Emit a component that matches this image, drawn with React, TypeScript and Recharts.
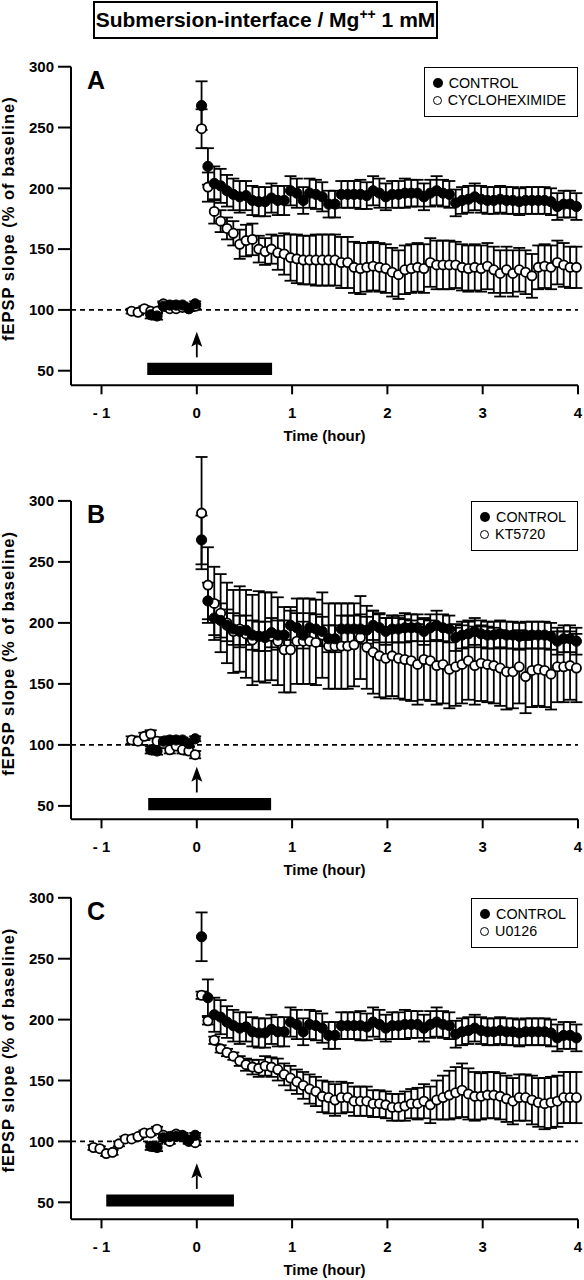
import React from 'react';
import {
  ComposedChart,
  Scatter,
  ErrorBar,
  XAxis,
  YAxis,
  ReferenceLine,
  ReferenceArea,
  ReferenceDot,
} from 'recharts';

const FONT = "'Liberation Sans', Arial, Helvetica, sans-serif";

// one sweep every 4 min (1/15 h); last baseline sweep just before tetanus
const STEP = 1 / 15;
const FIRST_POST = 0.05;
const LAST_BASE = -0.017;

const xTicks = [-1, 0, 1, 2, 3, 4];
const yTicks = [50, 100, 150, 200, 250, 300];

// CONTROL (same group in the three panels)
const controlBase = [96, 95, 103, 104, 104, 104, 101, 105];
const controlBaseErr = [3, 3, 3, 3, 2, 2, 2, 2];
const controlPost = [
  268, 218, 204, 202, 198, 195, 193, 194, 190, 189,
  189, 192, 190, 190, 198, 196, 190, 196, 195, 193,
  187, 187, 195, 195, 195, 195, 194, 198, 196, 193,
  195, 195, 196, 196, 196, 193, 196, 198, 196, 195,
  188, 190, 191, 193, 191, 190, 190, 191, 190, 190,
  189, 190, 190, 190, 190, 189, 185, 187, 187, 185,
];
const controlPostErr = [
  20, 15, 14, 14, 13, 13, 13, 12, 12, 12,
  12, 12, 12, 12, 12, 12, 11, 12, 12, 12,
  11, 11, 11, 11, 11, 12, 11, 12, 12, 11,
  11, 11, 12, 11, 11, 11, 11, 12, 11, 11,
  11, 11, 11, 11, 11, 11, 11, 11, 11, 11,
  11, 11, 11, 11, 11, 11, 11, 11, 11, 11,
];

// A - cycloheximide
const cycloBase = [99, 98, 101, 99, 99, 105, 101, 101, 102, 101, 103];
const cycloBaseErr = [2, 2, 2, 2, 2, 2, 2, 2, 2, 2, 2];
const cycloPost = [
  249, 201, 181, 173, 167, 163, 154, 157, 158, 150,
  148, 150, 147, 146, 143, 142, 141, 141, 141, 141,
  141, 141, 139, 139, 135, 134, 135, 136, 135, 134,
  131, 129, 133, 134, 135, 134, 139, 137, 137, 137,
  137, 135, 134, 135, 134, 136, 133, 130, 133, 130,
  133, 131, 128, 135, 136, 135, 139, 137, 135, 135,
];
const cycloPostErr = [
  16, 12, 10, 9, 9, 10, 12, 13, 13, 11,
  11, 12, 14, 17, 19, 20, 20, 20, 21, 21,
  21, 21, 21, 21, 21, 21, 20, 20, 20, 20,
  20, 20, 20, 20, 20, 20, 20, 20, 20, 20,
  19, 19, 19, 19, 19, 19, 19, 19, 19, 19,
  18, 18, 18, 18, 18, 18, 18, 18, 17, 17,
];

// B - KT5720
const ktBase = [104, 103, 107, 109, 103, 101, 96, 99, 96, 95, 92];
const ktBaseErr = [3, 3, 3, 3, 3, 3, 3, 3, 3, 3, 3];
const ktPost = [
  290, 231, 216, 208, 200, 193, 195, 191, 186, 189,
  188, 189, 185, 178, 178, 185, 185, 185, 184, 190,
  181, 181, 181, 181, 182, 188, 180, 176, 173, 171,
  173, 171, 170, 169, 166, 170, 169, 165, 166, 162,
  164, 166, 169, 165, 167, 166, 165, 163, 160, 160,
  164, 156, 161, 162, 161, 158, 164, 164, 165, 163,
];
const ktPostErr = [
  46, 31, 30, 32, 33, 34, 35, 36, 37, 37,
  37, 36, 36, 35, 35, 35, 35, 35, 35, 35,
  35, 35, 35, 35, 34, 34, 34, 34, 34, 33,
  33, 33, 33, 33, 33, 33, 33, 32, 32, 32,
  32, 32, 32, 32, 31, 31, 31, 31, 31, 30,
  30, 30, 30, 30, 30, 29, 29, 29, 28, 28,
];

// C - U0126
const uBase = [95, 94, 90, 91, 98, 102, 102, 104, 107, 107, 110, 105, 100, 106, 105, 100, 99];
const uBaseErr = [2, 2, 2, 2, 2, 2, 2, 2, 2, 2, 2, 2, 2, 2, 2, 2, 2];
const uPost = [
  220, 199, 183, 176, 173, 170, 166, 163, 161, 160,
  162, 161, 159, 155, 152, 149, 146, 143, 141, 137,
  136, 134, 136, 136, 133, 133, 133, 131, 131, 130,
  128, 128, 129, 131, 131, 133, 130, 134, 136, 138,
  140, 142, 139, 137, 137, 138, 138, 137, 135, 133,
  136, 136, 134, 132, 131, 132, 133, 136, 136, 136,
];
const uPostErr = [
  3, 3, 3, 3, 3, 3, 4, 5, 6, 7,
  8, 8, 9, 9, 10, 10, 11, 12, 12, 13,
  13, 13, 13, 12, 12, 12, 12, 11, 11, 11,
  11, 11, 12, 12, 13, 14, 15, 16, 18, 20,
  21, 22, 21, 20, 19, 19, 19, 19, 19, 19,
  19, 19, 20, 20, 21, 21, 21, 21, 21, 21,
];

// drug application (black bar), hours
const windowA = [-0.52, 0.79];
const windowB = [-0.51, 0.78];
const windowC = [-0.95, 0.39];

type Pt = { t: number; v: number; e: number };

const build = (base: number[], baseErr: number[], post: number[], postErr: number[]): Pt[] => [
  ...base.map((v, i) => ({ t: LAST_BASE - (base.length - 1 - i) * STEP, v, e: baseErr[i] })),
  ...post.map((v, i) => ({ t: FIRST_POST + i * STEP, v, e: postErr[i] })),
];

const controlData = build(controlBase, controlBaseErr, controlPost, controlPostErr);

const X_MIN = -1.32;
const X_MAX = 4;
const Y_TOP = 345; // headroom so the big error bars are not clipped
const X_AXIS_H = 60;

const Filled = (p: any) => <circle cx={p.cx} cy={p.cy} r={5.1} fill="#000" stroke="#000" strokeWidth={1} />;
const Open = (p: any) => <circle cx={p.cx} cy={p.cy} r={4.6} fill="#fff" stroke="#000" strokeWidth={1.8} />;
const ArrowHead = (p: any) => (
  <polygon
    points={`${p.cx},${p.cy} ${p.cx - 5.5},${p.cy + 15} ${p.cx},${p.cy + 12} ${p.cx + 5.5},${p.cy + 15}`}
    fill="#000"
  />
);

type PanelProps = {
  letter: string;
  drug: string;
  data: Pt[];
  drugWindow: number[];
  y300: number;
  scale: number;
  yMin: number;
};

const tickStyle = { fill: '#000', fontSize: 15, fontWeight: 700, fontFamily: FONT };

const Panel = ({ letter, drug, data, drugWindow, y300, scale, yMin }: PanelProps) => {
  const plotH = (Y_TOP - yMin) * scale;
  const top = y300 - (Y_TOP - 300) * scale;
  const h = plotH + X_AXIS_H;
  const headroom = (Y_TOP - 300) * scale;

  return (
    <div style={{ position: 'absolute', left: 0, top, width: 584, height: h }}>
      <ComposedChart width={584} height={h} margin={{ top: 0, right: 6, bottom: 0, left: 0 }}>
        <XAxis
          type="number"
          dataKey="t"
          domain={[X_MIN, X_MAX]}
          ticks={xTicks}
          tickFormatter={(v: number) => (v < 0 ? `- ${Math.abs(v)}` : String(v))}
          height={X_AXIS_H}
          tickSize={9}
          tickMargin={13}
          axisLine={{ stroke: '#000', strokeWidth: 2 }}
          tickLine={{ stroke: '#000', strokeWidth: 2 }}
          tick={tickStyle}
          label={{
            value: 'Time (hour)',
            position: 'insideBottom',
            offset: 4,
            fill: '#000',
            fontSize: 15,
            fontWeight: 700,
            fontFamily: FONT,
          }}
        />
        <YAxis
          type="number"
          dataKey="v"
          domain={[yMin, Y_TOP]}
          ticks={yTicks}
          width={71}
          tickSize={13}
          tickMargin={4}
          axisLine={false}
          tickLine={{ stroke: '#000', strokeWidth: 2 }}
          tick={tickStyle}
          label={{
            content: (props: any) => {
              const vb = props.viewBox || {};
              const cy = vb.y + ((Y_TOP - 175) / (Y_TOP - yMin)) * vb.height;
              const x = 14;
              return (
                <text
                  x={x}
                  y={cy}
                  transform={`rotate(-90, ${x}, ${cy})`}
                  textAnchor="middle"
                  fill="#000"
                  fontSize={16.5}
                  fontWeight={700}
                  fontFamily={FONT}
                  letterSpacing={1}
                >
                  fEPSP slope (% of baseline)
                </text>
              );
            },
          }}
        />
        <ReferenceLine
          segment={[{ x: X_MIN, y: yMin }, { x: X_MIN, y: 300 }]}
          stroke="#000"
          strokeWidth={2}
        />
        <ReferenceLine y={100} stroke="#000" strokeWidth={1.6} strokeDasharray="5 4" />
        <ReferenceArea
          x1={drugWindow[0]}
          x2={drugWindow[1]}
          y1={46.5}
          y2={56.5}
          fill="#000"
          fillOpacity={1}
          stroke="none"
        />
        <ReferenceLine segment={[{ x: 0, y: 61 }, { x: 0, y: 72 }]} stroke="#000" strokeWidth={1.8} />
        <ReferenceDot x={0} y={82} r={0} shape={ArrowHead} />
        <Scatter data={data} dataKey="v" shape={Open} isAnimationActive={false}>
          <ErrorBar dataKey="e" direction="y" width={6} stroke="#000" strokeWidth={1.8} isAnimationActive={false} />
        </Scatter>
        <Scatter data={controlData} dataKey="v" shape={Filled} isAnimationActive={false}>
          <ErrorBar dataKey="e" direction="y" width={6} stroke="#000" strokeWidth={1.8} isAnimationActive={false} />
        </Scatter>
      </ComposedChart>

      <div
        style={{
          position: 'absolute',
          left: 87,
          top: headroom + 1,
          fontFamily: FONT,
          fontWeight: 700,
          fontSize: 25,
          lineHeight: 1,
        }}
      >
        {letter}
      </div>

      <div
        style={{
          position: 'absolute',
          right: 6,
          top: headroom,
          border: '1.5px solid #000',
          background: '#fff',
          padding: '7px 11px 7px 8px',
          fontFamily: FONT,
          fontSize: 14.3,
          lineHeight: '17px',
          color: '#000',
        }}
      >
        <div style={{ display: 'flex', alignItems: 'center' }}>
          <span
            style={{ display: 'inline-block', width: 10, height: 10, borderRadius: '50%', background: '#000', marginRight: 6 }}
          />
          CONTROL
        </div>
        <div style={{ display: 'flex', alignItems: 'center' }}>
          <span
            style={{
              display: 'inline-block',
              width: 7,
              height: 7,
              borderRadius: '50%',
              border: '1.5px solid #000',
              marginRight: 6,
            }}
          />
          {drug}
        </div>
      </div>
    </div>
  );
};

export default function App() {
  return (
    <div style={{ position: 'absolute', left: 0, top: 0, width: 584, height: 1280, background: '#fff' }}>
      <Panel
        letter="A"
        drug="CYCLOHEXIMIDE"
        data={build(cycloBase, cycloBaseErr, cycloPost, cycloPostErr)}
        drugWindow={windowA}
        y300={67}
        scale={1.216}
        yMin={38}
      />
      <Panel
        letter="B"
        drug="KT5720"
        data={build(ktBase, ktBaseErr, ktPost, ktPostErr)}
        drugWindow={windowB}
        y300={501}
        scale={1.22}
        yMin={39}
      />
      <Panel
        letter="C"
        drug="U0126"
        data={build(uBase, uBaseErr, uPost, uPostErr)}
        drugWindow={windowC}
        y300={898}
        scale={1.218}
        yMin={36}
      />
      <div
        style={{
          position: 'absolute',
          left: 93,
          top: 1,
          width: 345,
          height: 38,
          boxSizing: 'border-box',
          border: '2px solid #000',
          display: 'flex',
          alignItems: 'center',
          justifyContent: 'center',
          fontFamily: FONT,
          fontWeight: 700,
          fontSize: 21,
          color: '#000',
          background: '#fff',
        }}
      >
        <span>
          Submersion-interface / Mg
          <span style={{ fontSize: 14, position: 'relative', top: -8 }}>++</span> 1 mM
        </span>
      </div>
    </div>
  );
}
